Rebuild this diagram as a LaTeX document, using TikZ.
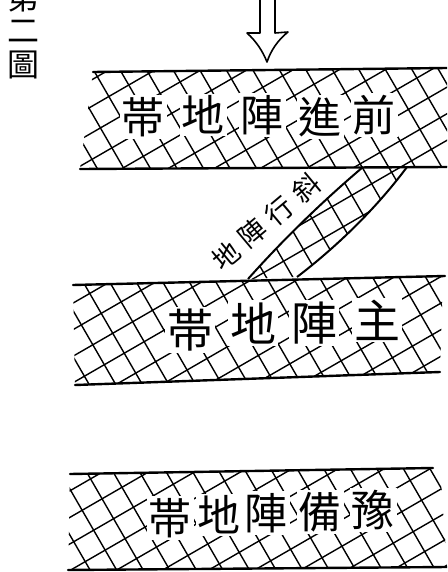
\documentclass[tikz,border=0pt]{standalone}
\usepackage{fontspec}
\newfontfamily\cjk{Noto Sans CJK TC}
\begin{document}
\begin{tikzpicture}[x=1pt,y=-1pt,
  bandline/.style={line width=2.4pt,line cap=round},
  hatch/.style={line width=1.4pt},
  zhA/.style={font=\cjk\fontsize{43}{43}\selectfont,fill=white,inner sep=2pt},
  zhB/.style={font=\cjk\fontsize{46}{46}\selectfont,fill=white,inner sep=2pt},
  zhS/.style={font=\cjk\fontsize{27}{27}\selectfont,fill=white,inner sep=1pt,rotate=40},
  zhL/.style={font=\cjk\fontsize{32}{32}\selectfont,inner sep=0pt},
  arrowline/.style={line width=1.6pt,line join=round}]
\useasboundingbox (0,0) rectangle (447,572);
\clip (0,0) rectangle (447,572);

\newcommand\myhatch{%
  \foreach \k in {-45,...,45} {
    \draw[hatch,rotate=30] (-1000,\k*23) -- (1000,\k*23);
    \draw[hatch,rotate=30] (\k*23,-1000) -- (\k*23,1000);
  }}

% band 1 hatch
\begin{scope}
\clip (93,72) -- (447,68) -- (447,167) -- (80,169) -- cycle;
\myhatch
\end{scope}
% band 2 hatch
\begin{scope}
\clip (73,285) -- (443,276) -- (440,372) -- (75,385) -- cycle;
\myhatch
\end{scope}
% band 3 hatch
\begin{scope}
\clip (70,474) -- (440,468) -- (447,567) -- (68,570) -- cycle;
\myhatch
\end{scope}
% slant band hatch
\begin{scope}
\clip (248,279) .. controls (290,232) and (330,195) .. (363,167)
  -- (407,167) .. controls (375,210) and (335,248) .. (297,277) -- cycle;
\myhatch
\end{scope}

% band outlines
\draw[bandline] (93,72) -- (447,68);
\draw[bandline] (80,169) -- (447,167);
\draw[bandline] (73,285) -- (445,276);
\draw[bandline] (75,385) -- (440,372);
\draw[bandline] (70,474) -- (433,468);
\draw[bandline] (68,570) -- (447,567);
\draw[line width=2pt] (248,279) .. controls (290,232) and (330,195) .. (363,167);
\draw[line width=2pt] (407,167) .. controls (375,210) and (335,248) .. (297,277);

% arrow
\draw[arrowline] (260,-2) -- (260,33) -- (247,33)
  .. controls (257,42) and (263,52) .. (267,62)
  .. controls (271,50) and (278,40) .. (288,32) -- (275,33) -- (275,-2);

% band texts
\node[zhA] (a1) at (143,117) {帯};
\node[zhA] (a2) at (203,115) {地};
\node[zhA] (a3) at (262,115) {陣};
\node[zhA] (a4) at (320,117) {進};
\node[zhA] (a5) at (374,115) {前};

\node[zhB] (b1) at (190,330) {帯};
\node[zhB] (b2) at (253,323) {地};
\node[zhB] (b3) at (314,323) {陣};
\node[zhB] (b4) at (377,320) {主};

\node[zhA] (c1) at (170,518) {帯};
\node[zhA] (c2) at (219,515) {地};
\node[zhA] (c3) at (266,513) {陣};
\node[zhA] (c4) at (320,512) {備};
\node[zhA] (c5) at (373,510) {豫};

% slant text
\node[zhS] (s) at (266,222) {地\hspace{8pt}陣\hspace{8pt}行\hspace{8pt}斜};

% figure label
\node[zhL] (l1) at (24,-3) {第};
\node[zhL] (l2) at (24,31) {二};
\node[zhL] (l3) at (24,65) {圖};
\end{tikzpicture}
\end{document}
